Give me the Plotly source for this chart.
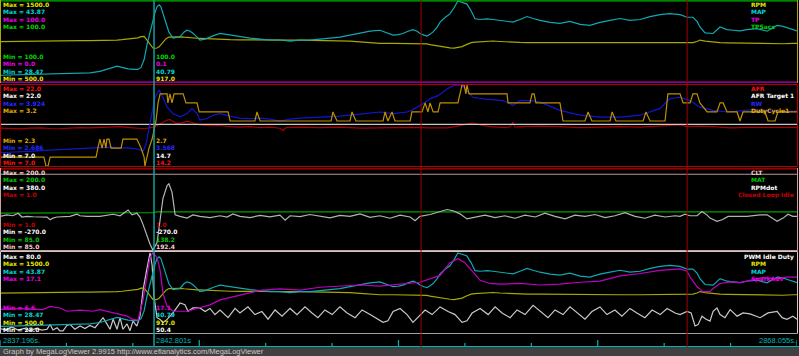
import plotly.graph_objects as go

W, H = 799, 356
T0, T_END = 2837.196, 2868.055
CURSOR_T = 2843.16
CURSOR_LABEL = "2842.801s"
START_LABEL = "2837.196s."
END_LABEL = "2868.055s."
MARKER_T = [2853.50, 2863.80]
N_TICKS = 12
FOOTER = "Graph by MegaLogViewer 2.9915 http://www.efianalytics.com/MegaLogViewer"

# ---------------- data: (seconds after T0, value) ----------------
RPM = [(0, 998), (0.77, 1003), (1.55, 1006), (2.32, 1008), (3.10, 1010), (3.48, 1010), (3.87, 1010), (4.14, 1012),
       (4.38, 1015), (4.53, 1018), (4.72, 1022), (4.96, 1028), (5.19, 1035), (5.34, 1045), (5.46, 1060), (5.58, 1062),
       (5.69, 1018), (5.81, 960), (5.92, 920), (6.00, 917), (6.08, 920), (6.16, 935), (6.23, 958), (6.31, 985),
       (6.43, 1035), (6.54, 1055), (6.70, 1058), (6.85, 1058), (6.97, 1058), (7.12, 1053), (7.24, 1048), (7.36, 1048),
       (7.47, 1045), (7.63, 1040), (7.74, 1039), (7.94, 1035), (8.13, 1030), (8.32, 1028), (8.52, 1026), (8.91, 1022),
       (9.29, 1020), (9.68, 1018), (10.07, 1018), (10.45, 1018), (10.84, 1015), (11.23, 1018), (11.62, 1018),
       (12.00, 1016), (12.39, 1014), (12.78, 1012), (13.16, 1012), (13.55, 1005), (13.94, 995), (14.33, 985),
       (14.71, 978), (15.22, 978), (15.80, 978), (16.26, 978), (16.42, 975), (16.53, 970), (16.65, 962), (16.77, 955),
       (16.92, 945), (17.04, 937), (17.23, 928), (17.42, 922), (17.58, 918), (17.73, 925), (17.89, 937), (18.08, 965),
       (18.24, 986), (18.39, 992), (18.59, 998), (18.86, 1003), (19.09, 1006), (19.36, 1000), (19.63, 994),
       (19.86, 990), (20.13, 988), (20.41, 986), (20.91, 986), (21.68, 982), (22.46, 982), (23.23, 982), (24.01, 978),
       (24.78, 978), (25.56, 978), (26.33, 978), (26.60, 982), (26.83, 986), (26.99, 1000), (27.10, 1018),
       (27.30, 1005), (27.61, 992), (27.88, 986), (28.15, 984), (28.65, 980), (28.92, 978), (29.31, 975), (29.70, 970),
       (30.09, 966), (30.32, 972), (30.70, 978), (30.86, 978)]

MAP = [(0, 29.77), (0.77, 29.86), (1.55, 29.95), (2.32, 30.05), (3.10, 30.14), (3.48, 30.23), (3.87, 30.51),
       (4.14, 30.88), (4.38, 31.25), (4.53, 31.49), (4.72, 31.25), (4.96, 30.97), (5.19, 30.88), (5.34, 30.88),
       (5.46, 31.25), (5.58, 32.74), (5.69, 35.52), (5.81, 37.93), (5.92, 40.16), (6.00, 41.64), (6.08, 42.76),
       (6.16, 43.13), (6.23, 42.76), (6.31, 41.46), (6.43, 39.42), (6.54, 37.93), (6.70, 36.82), (6.85, 37.00),
       (6.97, 37.06), (7.12, 37.93), (7.24, 38.30), (7.36, 38.12), (7.47, 37.75), (7.63, 37.00), (7.74, 36.45),
       (7.94, 36.63), (8.13, 37.06), (8.32, 37.38), (8.52, 37.69), (8.91, 37.38), (9.29, 37.00), (9.68, 36.82),
       (10.07, 36.63), (10.45, 36.45), (10.84, 36.45), (11.23, 36.26), (11.62, 36.45), (12.00, 36.45), (12.39, 36.63),
       (12.78, 36.82), (13.16, 37.00), (13.55, 37.38), (13.94, 37.75), (14.33, 38.12), (14.71, 38.30), (14.98, 37.75),
       (15.22, 37.38), (15.41, 37.47), (15.60, 37.69), (15.80, 38.12), (15.99, 38.43), (16.15, 38.12), (16.26, 37.69),
       (16.42, 37.38), (16.53, 37.19), (16.65, 37.56), (16.77, 37.99), (16.92, 38.86), (17.04, 39.84), (17.23, 40.72),
       (17.42, 41.40), (17.58, 42.57), (17.73, 43.87), (17.89, 43.60), (18.08, 43.26), (18.24, 42.01), (18.39, 40.47),
       (18.59, 40.34), (18.86, 40.47), (19.09, 40.34), (19.36, 40.16), (19.63, 39.97), (19.86, 39.84), (20.13, 40.34),
       (20.41, 40.90), (20.64, 40.53), (20.91, 40.16), (21.30, 39.79), (21.68, 39.60), (22.07, 39.97), (22.46, 39.42),
       (22.84, 39.23), (23.23, 39.79), (23.62, 40.16), (24.01, 40.53), (24.39, 40.16), (24.78, 40.34), (25.17, 40.90),
       (25.56, 41.27), (25.94, 41.46), (26.33, 41.27), (26.60, 40.77), (26.83, 40.77), (26.99, 39.97), (27.10, 38.92),
       (27.30, 37.80), (27.61, 37.69), (27.88, 38.92), (28.15, 38.43), (28.38, 38.30), (28.65, 38.17), (28.92, 38.43),
       (29.31, 38.62), (29.70, 38.12), (30.09, 39.23), (30.32, 39.05), (30.70, 38.43), (30.86, 38.17)]

TP = [(0, 0.1), (30.86, 0.1)]
TPSACC = [(0, 100.0), (30.86, 100.0)]

AFR = [(0, 14.0), (0.39, 13.95), (0.77, 13.87), (1.16, 14.0), (1.55, 14.05), (1.94, 13.95), (2.32, 13.9), (2.71, 14.0),
       (3.10, 14.1), (3.48, 14.05), (3.87, 14.1), (4.26, 14.2), (4.65, 14.3), (5.03, 14.1), (5.42, 13.95), (5.61, 13.9),
       (5.81, 14.1), (5.96, 14.2), (6.12, 14.6), (6.27, 15.0), (6.47, 15.5), (6.58, 15.6), (6.74, 15.2), (6.85, 14.85),
       (7.05, 15.0), (7.24, 15.3), (7.47, 15.0), (7.74, 14.6), (8.13, 14.45), (8.52, 14.5), (8.91, 14.3), (9.29, 14.2),
       (9.68, 14.3), (10.07, 14.1), (10.45, 14.2), (10.84, 14.0), (10.96, 13.6), (11.07, 14.1), (11.62, 14.2),
       (12.39, 14.1), (13.16, 14.2), (13.94, 14.0), (14.71, 14.05), (15.49, 14.1), (15.99, 14.15), (16.65, 14.05),
       (17.31, 14.05), (17.62, 14.3), (17.89, 14.6), (18.12, 14.9), (18.31, 15.0), (18.59, 14.6), (18.97, 14.3),
       (19.63, 14.1), (19.75, 14.3), (19.86, 15.1), (19.94, 14.2), (20.13, 14.3), (20.91, 14.4), (21.68, 14.3),
       (22.46, 14.1), (23.23, 14.2), (24.01, 14.3), (24.78, 14.2), (25.56, 14.4), (26.33, 14.6), (26.60, 14.3),
       (27.10, 14.4), (27.61, 14.3), (28.27, 14.05), (28.92, 14.15), (29.70, 14.2), (30.20, 14.1), (30.86, 14.15)]

AFR_TARGET = [(0, 14.7), (30.86, 14.7)]

RW = [(0, 2.890), (0.66, 2.899), (1.28, 2.914), (1.94, 2.929), (2.59, 2.940), (3.60, 2.965), (4.26, 2.974),
      (4.65, 2.965), (4.92, 2.965), (5.30, 2.950), (5.54, 2.914), (5.65, 3.014), (5.73, 3.189), (5.89, 3.536),
      (6.00, 3.730), (6.16, 3.845), (6.31, 3.735), (6.47, 3.585), (6.70, 3.487), (6.97, 3.436), (7.24, 3.487),
      (7.43, 3.562), (7.63, 3.487), (7.74, 3.387), (8.02, 3.412), (8.25, 3.462), (8.52, 3.487), (8.91, 3.447),
      (9.29, 3.417), (9.68, 3.409), (10.07, 3.417), (10.45, 3.402), (10.84, 3.372), (11.23, 3.402), (11.62, 3.417),
      (12.39, 3.432), (13.16, 3.447), (13.94, 3.477), (14.71, 3.511), (15.22, 3.487), (15.76, 3.511), (15.99, 3.547),
      (16.38, 3.636), (16.65, 3.711), (16.96, 3.760), (17.31, 3.860), (17.54, 3.909), (17.73, 3.924), (17.89, 3.909),
      (18.08, 3.835), (18.31, 3.735), (18.70, 3.711), (19.09, 3.696), (19.48, 3.685), (19.75, 3.636), (19.86, 3.611),
      (20.13, 3.685), (20.52, 3.685), (20.91, 3.660), (21.68, 3.536), (22.46, 3.462), (23.23, 3.432), (24.01, 3.432),
      (24.78, 3.462), (25.56, 3.566), (25.94, 3.715), (26.33, 3.735), (26.72, 3.685), (27.10, 3.585), (27.61, 3.536),
      (28.15, 3.511), (28.65, 3.526), (29.16, 3.547), (29.93, 3.521), (30.86, 3.526)]

DUTY = [(0, 2.4), (1.70, 2.4), (1.78, 2.3), (1.86, 2.3), (1.94, 2.4), (3.72, 2.4), (3.79, 2.5), (3.87, 2.6), (3.95, 2.5),
        (4.03, 2.6), (4.10, 2.5), (4.14, 2.6), (4.22, 2.6), (4.30, 2.5), (4.69, 2.5), (4.76, 2.6), (5.30, 2.6),
        (5.46, 2.5), (5.58, 2.4), (5.61, 2.3), (5.69, 2.4), (5.77, 2.5), (5.89, 2.6), (5.96, 2.7), (6.04, 2.8),
        (6.12, 3.0), (6.20, 3.1), (6.47, 3.1), (6.50, 3.0), (6.58, 3.1), (6.66, 3.0), (6.74, 3.1), (7.09, 3.1),
        (7.20, 3.0), (7.63, 3.0), (7.71, 2.9), (8.83, 2.9), (8.91, 2.8), (9.87, 2.8), (9.95, 2.9), (10.07, 2.8),
        (12.82, 2.8), (12.89, 2.9), (13.05, 2.8), (13.55, 2.8), (13.63, 2.9), (13.78, 2.8), (14.83, 2.8), (14.91, 2.9),
        (15.02, 2.8), (15.18, 2.9), (15.29, 2.8), (15.88, 2.8), (15.95, 2.9), (16.34, 2.9), (16.46, 3.0), (16.57, 2.9),
        (16.65, 3.0), (16.77, 2.9), (16.96, 2.9), (17.04, 3.0), (17.73, 3.0), (17.89, 3.2), (17.97, 3.2), (18.04, 3.1),
        (18.08, 3.2), (18.16, 3.1), (19.63, 3.1), (19.67, 3.0), (20.52, 3.0), (20.60, 3.1), (20.68, 3.1), (20.75, 3.0),
        (21.68, 3.0), (21.80, 2.8), (22.65, 2.8), (22.77, 2.9), (22.92, 2.8), (23.62, 2.8), (23.70, 2.9), (23.85, 2.8),
        (24.90, 2.8), (25.01, 2.9), (25.17, 2.8), (25.75, 2.8), (25.86, 3.1), (26.33, 3.1), (26.45, 3.0), (26.72, 3.0),
        (26.83, 3.1), (26.99, 3.1), (27.10, 3.0), (27.38, 2.9), (27.76, 2.9), (27.88, 3.0), (28.00, 3.0), (28.15, 2.9),
        (28.54, 2.9), (28.65, 2.8), (28.77, 2.9), (29.62, 2.9), (29.74, 2.8), (30.01, 2.8), (30.12, 2.9), (30.86, 2.9)]

CLT = [(0, 192.4), (30.86, 192.4)]
MAT = [(0, 137.4), (5.81, 137.4), (5.92, 138.2), (6.08, 139.2), (30.86, 139.2)]
CLOSED_LOOP_IDLE = [(0, 1.0), (30.86, 1.0)]

RPMDOT = [(0, 0), (0.27, 12), (0.50, 5), (0.70, 25), (0.85, -5), (1.05, 0), (1.28, -3), (1.55, -3), (1.82, -6),
          (1.94, -27), (2.05, -14), (2.21, -5), (2.44, -1), (2.71, 0), (2.98, 17), (3.10, 5), (3.37, 0), (3.87, 0),
          (4.38, 17), (4.53, 10), (4.65, 5), (4.96, 51), (5.11, 12), (5.30, 25), (5.42, -5), (5.54, -66), (5.69, -158),
          (5.81, -223), (5.92, -270), (6.08, -210), (6.20, -27), (6.31, 143), (6.47, 247), (6.54, 260), (6.66, 194),
          (6.78, 12), (6.97, 0), (7.24, -14), (7.47, 12), (7.74, 0), (8.13, -10), (8.52, 5), (8.79, -6), (9.02, 20),
          (9.29, 0), (9.68, -10), (10.07, 8), (10.45, -4), (10.84, 10), (11.04, -30), (11.23, 5), (11.62, -2),
          (12.00, 15), (12.39, 0), (12.78, -12), (13.16, 8), (13.55, 0), (13.94, 20), (14.33, -8), (14.71, 5),
          (15.10, -15), (15.49, 10), (15.88, -5), (16.07, -35), (16.26, 0), (16.65, 15), (17.04, 40), (17.31, 55),
          (17.54, 45), (17.81, 20), (18.08, -20), (18.39, -5), (18.78, 10), (19.17, -10), (19.55, 5), (19.94, -15),
          (20.33, 10), (20.72, -5), (21.10, 25), (21.49, 0), (21.88, -20), (22.26, 10), (22.65, 0), (23.04, 15),
          (23.43, -10), (23.81, 5), (24.20, 30), (24.59, 0), (24.97, -15), (25.36, 10), (25.75, -5), (26.14, 5),
          (26.33, 0), (26.52, 17), (26.72, 5), (26.99, 5), (27.18, 38), (27.38, 10), (27.49, -14), (27.76, -40),
          (27.96, -27), (28.19, 0), (28.92, 0), (29.43, 12), (29.70, 12), (30.09, -40), (30.32, -14), (30.51, 17),
          (30.70, 0), (30.86, 0)]

PWM_IDLE = [(0, 31), (0.23, 30), (0.46, 32), (0.70, 30), (0.93, 31), (1.16, 29.5), (1.39, 31), (1.63, 30), (1.82, 30.5),
            (1.94, 33.7), (2.05, 30), (2.21, 31.5), (2.32, 29.5), (2.44, 29.5), (2.59, 33), (2.71, 33.7), (2.90, 30.5),
            (3.10, 32.6), (3.29, 31), (3.48, 33), (3.68, 31.5), (3.87, 35.8), (3.99, 38), (4.14, 34), (4.26, 30.5),
            (4.38, 37), (4.53, 30.5), (4.65, 38), (4.76, 30.5), (4.92, 34), (5.03, 29.5), (5.15, 35.8), (5.30, 32.6),
            (5.42, 39), (5.54, 56), (5.69, 70), (5.81, 80), (5.89, 72), (5.96, 52), (6.08, 38), (6.20, 36.9),
            (6.31, 34.8), (6.47, 36.9), (6.70, 41.1), (6.97, 47.5), (7.16, 46.4), (7.28, 42.1), (7.47, 44.3),
            (7.74, 44.3), (7.94, 42), (8.13, 44), (8.32, 40), (8.52, 43), (8.83, 38), (9.10, 44), (9.29, 41), (9.60, 45),
            (9.87, 40), (10.14, 42), (10.38, 37), (10.65, 43), (10.92, 39), (11.23, 44), (11.50, 40), (11.81, 45),
            (12.08, 41), (12.31, 38), (12.58, 43), (12.86, 40), (13.16, 45), (13.44, 41), (13.75, 38), (14.02, 43),
            (14.33, 40), (14.60, 37), (14.83, 35), (15.02, 36), (15.22, 42), (15.49, 44), (15.76, 40), (15.99, 35),
            (16.18, 38), (16.46, 43), (16.73, 40), (17.04, 45), (17.35, 42), (17.62, 40), (17.89, 35), (18.08, 36),
            (18.28, 41), (18.59, 44), (18.90, 40), (19.17, 45), (19.44, 41), (19.75, 38), (20.02, 43), (20.33, 40),
            (20.64, 46), (20.91, 42), (21.22, 38), (21.49, 43), (21.80, 40), (22.07, 45), (22.38, 41), (22.65, 37),
            (22.92, 42), (23.23, 45), (23.50, 40), (23.81, 43), (24.08, 39), (24.39, 44), (24.66, 41), (24.97, 38),
            (25.25, 43), (25.56, 40), (25.83, 44), (26.14, 41), (26.33, 40), (26.60, 42.1), (26.76, 41), (26.91, 32.6),
            (27.03, 33.5), (27.18, 39), (27.34, 37), (27.49, 35.8), (27.61, 42.1), (27.76, 44.3), (27.88, 40),
            (28.07, 38), (28.27, 43.2), (28.54, 39), (28.77, 41.1), (29.04, 40.5), (29.43, 38), (29.74, 41.1),
            (30.09, 42.1), (30.28, 38), (30.47, 36.9), (30.70, 39), (30.86, 37)]

SPARK_ADV = [(0, 9.7), (0.77, 9.8), (1.66, 9.67), (1.94, 10.1), (2.32, 9.89), (2.59, 9.46), (3.10, 9.6), (3.60, 9.46),
             (3.87, 9.67), (4.38, 9.25), (4.92, 8.82), (5.15, 8.39), (5.34, 8.30), (5.54, 10.95), (5.69, 14.37),
             (5.81, 16.5), (5.92, 17.1), (6.08, 16.5), (6.20, 14.8), (6.31, 11.81), (6.47, 10.1), (6.70, 9.46),
             (7.24, 9.46), (7.74, 9.89), (8.13, 10.3), (8.52, 10.95), (9.29, 11.6), (10.07, 12.2), (10.84, 12.4),
             (11.62, 12.23), (12.39, 12.6), (13.16, 12.75), (13.94, 12.9), (14.71, 12.75), (15.49, 13.0), (16.26, 13.26),
             (17.04, 14.15), (17.42, 15.82), (17.73, 16.33), (18.00, 15.8), (18.20, 15.05), (18.59, 13.51), (18.97, 13.1),
             (19.36, 13.0), (20.13, 13.1), (20.91, 12.9), (21.68, 13.0), (22.46, 13.26), (23.23, 13.4), (24.01, 14.1),
             (24.78, 14.4), (25.56, 14.8), (26.33, 15.0), (26.60, 14.7), (26.72, 13.94), (26.99, 12.66), (27.22, 12.02),
             (27.49, 12.02), (27.61, 12.45), (27.88, 13.09), (28.27, 13.3), (28.65, 13.2), (29.16, 13.6), (29.54, 13.86),
             (30.09, 13.7), (30.47, 13.94), (30.86, 13.94)]

# channel scale limits and values at the cursor
CH_MIN = {"RPM": 500.0, "MAP": 28.47, "TP": 0.0, "TPSacc": 100.0, "AFR": 7.0, "AFR Target 1": 7.0, "RW": 2.686,
          "DutyCycle1": 2.3, "CLT": 85.0, "MAT": 85.0, "RPMdot": -270.0, "Closed Loop Idle": 1.0,
          "PWM Idle Duty": 28.0, "SparkAdv": 6.6}
CH_MAX = {"RPM": 1500.0, "MAP": 43.87, "TP": 100.0, "TPSacc": 100.0, "AFR": 22.0, "AFR Target 1": 22.0, "RW": 3.924,
          "DutyCycle1": 3.2, "CLT": 200.0, "MAT": 200.0, "RPMdot": 380.0, "Closed Loop Idle": 1.0,
          "PWM Idle Duty": 80.0, "SparkAdv": 17.1}
CH_CURSOR = {"RPM": 917.0, "MAP": 40.79, "TP": 0.1, "TPSacc": 100.0, "AFR": 14.2, "AFR Target 1": 14.7, "RW": 3.568,
             "DutyCycle1": 2.7, "CLT": 192.4, "MAT": 138.2, "RPMdot": -270.0, "Closed Loop Idle": 1.0,
             "PWM Idle Duty": 50.4, "SparkAdv": 17.1}
CH_DATA = {"RPM": RPM, "MAP": MAP, "TP": TP, "TPSacc": TPSACC, "AFR": AFR, "AFR Target 1": AFR_TARGET, "RW": RW,
           "DutyCycle1": DUTY, "CLT": CLT, "MAT": MAT, "RPMdot": RPMDOT, "Closed Loop Idle": CLOSED_LOOP_IDLE,
           "PWM Idle Duty": PWM_IDLE, "SparkAdv": SPARK_ADV}
PANEL_CHANNELS = [["RPM", "MAP", "TP", "TPSacc"],
                  ["AFR", "AFR Target 1", "RW", "DutyCycle1"],
                  ["CLT", "MAT", "RPMdot", "Closed Loop Idle"],
                  ["PWM Idle Duty", "RPM", "MAP", "SparkAdv"]]

# ---------------- styles / layout geometry ----------------
LINE_COLOR = {"RPM": "#a8a800", "MAP": "#10a8b4", "TP": "#c000c0", "TPSacc": "#00b400", "AFR": "#a80000",
              "AFR Target 1": "#c8c8c8", "RW": "#1414d0", "DutyCycle1": "#c09000", "CLT": "#b89898",
              "MAT": "#00a000", "RPMdot": "#b4b4b4", "Closed Loop Idle": "#c80000", "PWM Idle Duty": "#c8c8c8",
              "SparkAdv": "#c000c0"}
TEXT_COLOR = {"RPM": "#e8e800", "MAP": "#00d8d8", "TP": "#e800e8", "TPSacc": "#00d800", "AFR": "#ff1010",
              "AFR Target 1": "#ffffff", "RW": "#2828ff", "DutyCycle1": "#e0b000", "CLT": "#f8d0d0",
              "MAT": "#00c800", "RPMdot": "#ffffff", "Closed Loop Idle": "#c80000", "PWM Idle Duty": "#ffffff",
              "SparkAdv": "#e800e8"}
PANEL_PX = [(0, 83), (84, 167), (168, 251), (252, 334)]
ROW_FIRST = 4.6
ROW_PITCH = 7.3
RIGHT_ALIGNED = {"Closed Loop Idle", "PWM Idle Duty"}
LABEL_FONT = "DejaVu Sans, Verdana, sans-serif"
LABEL_FS = 6.0
FONT = "Liberation Sans, Arial, sans-serif"
FS = 7.5
PLOT_RIGHT_PX = 797


def px_x(p):
    return p / W


def px_y(p):
    return 1 - p / H


fig = go.Figure()
layout_axes = {}
annotations = []
ax_i = 0
for p, names in enumerate(PANEL_CHANNELS):
    top, bot = PANEL_PX[p]
    base = None
    for k, name in enumerate(names):
        ax_i += 1
        key = "yaxis" if ax_i == 1 else f"yaxis{ax_i}"
        ref = "y" if ax_i == 1 else f"y{ax_i}"
        lo, hi = CH_MIN[name], CH_MAX[name]
        if hi == lo:
            lo = hi - 1.0
        pad = (hi - lo) * 0.9 / (bot - top)
        ax = dict(range=[lo - pad, hi + pad], visible=False, fixedrange=True, showgrid=False, zeroline=False,
                  anchor="x")
        if k == 0:
            ax["domain"] = [px_y(bot), px_y(top)]
            base = ref
        else:
            ax["overlaying"] = base
        layout_axes[key] = ax
        data = CH_DATA[name]
        fig.add_trace(go.Scatter(x=[T0 + a for a, _ in data], y=[b for _, b in data], mode="lines",
                                 xaxis="x", yaxis=ref, hoverinfo="skip",
                                 line=dict(color=LINE_COLOR[name], width=1.2)))
        f = dict(family=LABEL_FONT, size=LABEL_FS, color=TEXT_COLOR[name], weight="bold")
        ymax = px_y(top + ROW_FIRST + ROW_PITCH * k)
        ymin = px_y(bot - ROW_FIRST - ROW_PITCH * k)
        annotations.append(dict(x=px_x(1.5), y=ymax, text=f"Max = {CH_MAX[name]}", font=f))
        annotations.append(dict(x=px_x(1.5), y=ymin, text=f"Min = {CH_MIN[name]}", font=f))
        annotations.append(dict(x=px_x(155), y=ymin, text=f"{CH_CURSOR[name]}", font=f))
        if name in RIGHT_ALIGNED:
            annotations.append(dict(x=px_x(795), y=ymax, text=name, font=f, xanchor="right"))
        else:
            annotations.append(dict(x=px_x(750), y=ymax, text=name, font=f))

# time strip labels and footer
cy = "#00b4b4"
tf = dict(family=FONT, size=FS, color=cy)
annotations.append(dict(x=px_x(1.5), y=px_y(340.5), text=START_LABEL, font=tf))
annotations.append(dict(x=px_x(155), y=px_y(340.5), text=CURSOR_LABEL, font=tf))
annotations.append(dict(x=px_x(797), y=px_y(340.5), text=END_LABEL, font=tf, xanchor="right"))
annotations.append(dict(x=px_x(1.5), y=px_y(351.5), text=FOOTER,
                        font=dict(family=FONT, size=FS, color="#c8c8c8")))

for a in annotations:
    a.setdefault("xanchor", "left")
    a.update(xref="paper", yref="paper", yanchor="middle", showarrow=False, borderpad=0)

shapes = []


def pline(x0, y0, x1, y1, color, width=1):
    shapes.append(dict(type="line", xref="paper", yref="paper", x0=px_x(x0), y0=px_y(y0), x1=px_x(x1),
                       y1=px_y(y1), line=dict(color=color, width=width), layer="above"))


# footer bar
shapes.append(dict(type="rect", xref="paper", yref="paper", x0=0, x1=1, y0=0, y1=px_y(347),
                   fillcolor="#404040", line=dict(width=0), layer="below"))
# panel borders
pline(0.5, 0, 0.5, 83, "#a8a800")
pline(797.5, 0, 797.5, 83, "#a8a800")
for (x0, y0, x1, y1) in [(0.5, 84.5, 797.5, 84.5), (0.5, 166.5, 797.5, 166.5), (0.5, 84.5, 0.5, 166.5),
                         (797.5, 84.5, 797.5, 166.5)]:
    pline(x0, y0, x1, y1, "#b40000")
for (x0, y0, x1, y1) in [(0.5, 250.5, 797.5, 250.5), (0.5, 168, 0.5, 250.5), (797.5, 168, 797.5, 250.5)]:
    pline(x0, y0, x1, y1, "#c8a0a0")
for (x0, y0, x1, y1) in [(0.5, 251.5, 797.5, 251.5), (0.5, 251.5, 0.5, 333.5), (797.5, 251.5, 797.5, 333.5)]:
    pline(x0, y0, x1, y1, "#d0c8c8")
pline(0.5, 333.5, 797.5, 333.5, "#a0a0a0")
# time strip baseline
pline(0, 346.5, 799, 346.5, cy)
# ticks
for k in range(N_TICKS + 1):
    t = T0 + k * (T_END - T0) / N_TICKS
    tall = (k % 3 == 0)
    shapes.append(dict(type="line", xref="x", yref="paper", x0=t, x1=t, y0=px_y(346.5),
                       y1=px_y(340 if tall else 343), line=dict(color=cy, width=1.2)))
# markers and cursor
for t in MARKER_T:
    shapes.append(dict(type="line", xref="x", yref="paper", x0=t, x1=t, y0=px_y(347), y1=1,
                       line=dict(color="#a00000", width=1)))
shapes.append(dict(type="line", xref="x", yref="paper", x0=CURSOR_T, x1=CURSOR_T, y0=px_y(347), y1=1,
                   line=dict(color="#14a0a0", width=1.5)))

fig.update_layout(
    width=W, height=H, autosize=False,
    margin=dict(l=0, r=0, t=0, b=0),
    paper_bgcolor="#000000", plot_bgcolor="rgba(0,0,0,0)",
    showlegend=False, hovermode=False, dragmode=False,
    xaxis=dict(range=[T0, T_END], domain=[0, PLOT_RIGHT_PX / W], visible=False, fixedrange=True,
               showgrid=False, zeroline=False),
    annotations=annotations, shapes=shapes,
    **layout_axes,
)

fig.write_html("out.html", config={"displayModeBar": False, "staticPlot": True})
